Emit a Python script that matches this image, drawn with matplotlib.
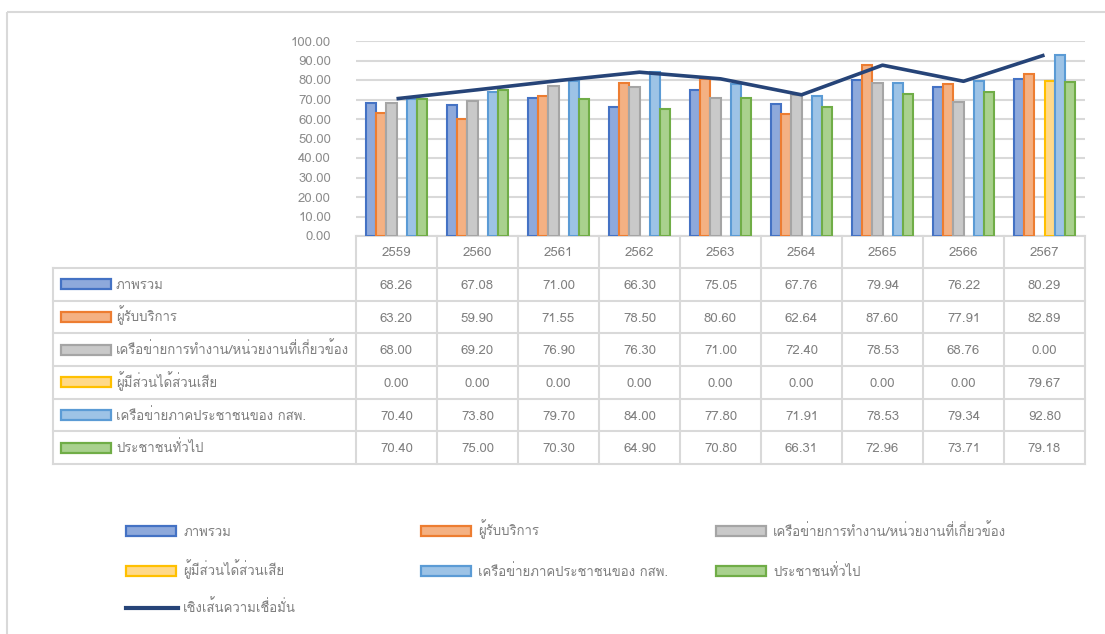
import numpy as np
import matplotlib
matplotlib.use("Agg")
import matplotlib.pyplot as plt
from matplotlib import font_manager as fm
from matplotlib.ft2font import FT2Font
from matplotlib.patches import Rectangle
from matplotlib.lines import Line2D

# ---------------- data ----------------
years = ["2559", "2560", "2561", "2562", "2563", "2564", "2565", "2566", "2567"]
series_names = [
    "ภาพรวม",
    "ผู้รับบริการ",
    "เครือข่ายการทำงาน/หน่วยงานที่เกี่ยวข้อง",
    "ผู้มีส่วนได้ส่วนเสีย",
    "เครือข่ายภาคประชาชนของ กสพ.",
    "ประชาชนทั่วไป",
]
overall = [68.26, 67.08, 71.00, 66.30, 75.05, 67.76, 79.94, 76.22, 80.29]
service = [63.20, 59.90, 71.55, 78.50, 80.60, 62.64, 87.60, 77.91, 82.89]
network = [68.00, 69.20, 76.90, 76.30, 71.00, 72.40, 78.53, 68.76, 0.00]
stakeholder = [0.00, 0.00, 0.00, 0.00, 0.00, 0.00, 0.00, 0.00, 79.67]
civil_net = [70.40, 73.80, 79.70, 84.00, 77.80, 71.91, 78.53, 79.34, 92.80]
public = [70.40, 75.00, 70.30, 64.90, 70.80, 66.31, 72.96, 73.71, 79.18]
trend_name = "เชิงเส้นความเชื่อมั่น"
trend = [70.40, 75.00, 79.70, 84.00, 80.60, 72.40, 87.60, 79.34, 92.80]
y_ticks = [0, 10, 20, 30, 40, 50, 60, 70, 80, 90, 100]

all_series = [overall, service, network, stakeholder, civil_net, public]
edge_colors = ["#4472C4", "#ED7D31", "#A5A5A5", "#FFC000", "#5B9BD5", "#70AD47"]
fill_colors = ["#8EA9DB", "#F4B183", "#C9C9C9", "#FFD98A", "#9DC3E6", "#A9D18E"]
trend_color = "#264478"

# ---------------- fonts ----------------
thai = []
for f in fm.fontManager.ttflist:
    try:
        cm = FT2Font(f.fname).get_charmap()
        if 0x0E01 in cm and f.name not in thai:
            thai.append(f.name)
    except Exception:
        pass
families = thai + ["DejaVu Sans"]
plt.rcParams["font.family"] = families

W, H = 1105, 634
fig = plt.figure(figsize=(W / 100, H / 100), dpi=100)
fig.patch.set_facecolor("white")

# overlay in pixel coords
ov = fig.add_axes([0, 0, 1, 1], zorder=0)
ov.set_xlim(0, W)
ov.set_ylim(H, 0)
ov.axis("off")

grid_c = "#D9D9D9"
text_c = "#7F7F7F"
fs = 9.5
bl = 4.5  # baseline offset below row centre (px)

# outer border (left/top visible)
ov.add_patch(Rectangle((7, 12), W + 20, H + 20, fill=False, ec=grid_c, lw=1.5))

# plot axes
px_l, px_r, px_t, px_b = 356, 1085, 41, 236
ax = fig.add_axes([px_l / W, 1 - px_b / H, (px_r - px_l) / W, (px_b - px_t) / H], zorder=2)
ax.set_facecolor("none")
n = len(years)
x = np.arange(n)
ax.set_xlim(-0.5, n - 0.5)
ax.set_ylim(0, 100)
ax.set_yticks(y_ticks)
ax.set_yticklabels([f"{v:.2f}" for v in y_ticks])
ax.tick_params(axis="y", length=0, pad=18, labelsize=fs, labelcolor="#8C8C8C")
ax.tick_params(axis="x", length=0, labelbottom=False)
for s in ax.spines.values():
    s.set_visible(False)
ax.yaxis.grid(True, color=grid_c, lw=1.5)
ax.set_axisbelow(True)

bw = 0.125
for i, vals in enumerate(all_series):
    v = np.array(vals)
    mask = v > 0
    offs = (i - 2.5) * bw
    ax.bar(x[mask] + offs, v[mask], width=bw, color=fill_colors[i],
           edgecolor=edge_colors[i], linewidth=1.5, zorder=3)
ax.plot(x, trend, color=trend_color, lw=2.6, zorder=4, solid_capstyle="butt")

# ---------------- table ----------------
col_w = (px_r - px_l) / n
tab_l = 53
hdr_t, hdr_b = px_b, 268
row_h = (464 - hdr_b) / 6
rows_y = [hdr_b + k * row_h for k in range(7)]
lw_t = 1.5
ov.add_line(Line2D([px_l, px_r], [hdr_t, hdr_t], color=grid_c, lw=lw_t))
for j in range(n + 1):
    xx = px_l + j * col_w
    ov.add_line(Line2D([xx, xx], [hdr_t, rows_y[-1]], color=grid_c, lw=lw_t))
for j, yr in enumerate(years):
    ov.text(px_l + (j + 0.5) * col_w, (hdr_t + hdr_b) / 2 + bl, yr, ha="center", va="baseline",
            fontsize=fs, color=text_c)
for k in range(7):
    ov.add_line(Line2D([tab_l, px_r], [rows_y[k], rows_y[k]], color=grid_c, lw=lw_t))
ov.add_line(Line2D([tab_l, tab_l], [rows_y[0], rows_y[-1]], color=grid_c, lw=lw_t))
for i, (name, vals) in enumerate(zip(series_names, all_series)):
    yc = (rows_y[i] + rows_y[i + 1]) / 2
    ov.add_patch(Rectangle((61, yc - 5), 50, 10, fc=fill_colors[i], ec=edge_colors[i], lw=1.6))
    ov.text(116, yc + bl, name, ha="left", va="baseline", fontsize=fs, color=text_c)
    for j, v in enumerate(vals):
        ov.text(px_l + (j + 0.5) * col_w, yc + bl, f"{v:.2f}", ha="center", va="baseline",
                fontsize=fs, color=text_c)

# ---------------- legend ----------------
leg_cols = [126, 421, 716]
leg_rows = [531, 571, 608]
for i, name in enumerate(series_names):
    cx = leg_cols[i % 3]
    cy = leg_rows[i // 3]
    ov.add_patch(Rectangle((cx, cy - 5), 50, 10, fc=fill_colors[i], ec=edge_colors[i], lw=1.6))
    ov.text(cx + 57, cy + bl, name, ha="left", va="baseline", fontsize=fs, color=text_c)
cx, cy = leg_cols[0], leg_rows[2]
ov.add_line(Line2D([cx, cx + 52], [cy, cy], color=trend_color, lw=3))
ov.text(cx + 57, cy + bl, trend_name, ha="left", va="baseline", fontsize=fs, color=text_c)

fig.savefig("out.png", dpi=100, facecolor="white")
